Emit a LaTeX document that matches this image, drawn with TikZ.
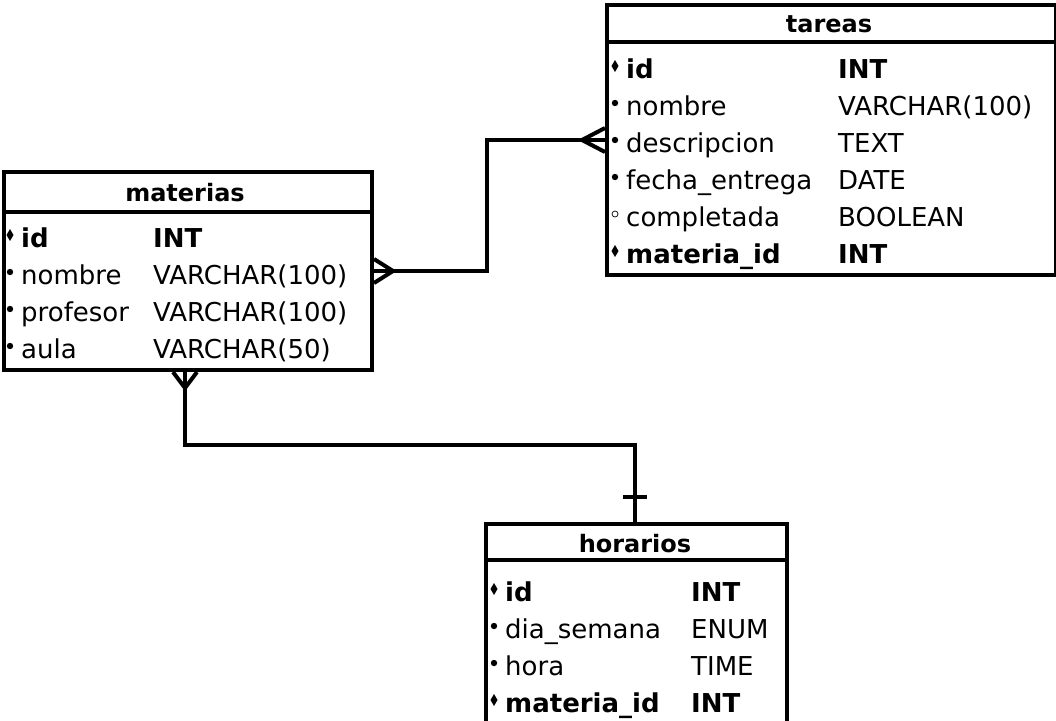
\documentclass[tikz,border=0pt]{standalone}
\usepackage{fontspec}
\setmainfont{DejaVu Sans}
\begin{document}
\begin{tikzpicture}[x=1pt,y=-1pt,
  tbl/.style={draw=black,line width=4pt,fill=white,inner sep=0pt,anchor=north west},
  sep/.style={draw=black,line width=4pt},
  conn/.style={draw=black,line width=4pt},
  fld/.style={anchor=base west,inner sep=0pt,font=\fontsize{26}{30}\selectfont},
  bfld/.style={fld,font=\fontsize{26}{30}\selectfont\bfseries},
  hdr/.style={anchor=base,inner sep=0pt,font=\fontsize{24}{28}\selectfont\bfseries},
  pk/.style={fill=black},
  nn/.style={fill=black},
  nul/.style={draw=black,line width=0.7pt,fill=white}]
\useasboundingbox (0,0) rectangle (1056,720);
\clip (0,0) rectangle (1056,720);
% ---------- tables ----------
\node[tbl,minimum width=368pt,minimum height=198pt] (mat) at (2,170) {};
\node[tbl,minimum width=449pt,minimum height=270pt] (tar) at (605,3) {};
\node[tbl,minimum width=301pt,minimum height=215pt] (hor) at (484,522) {};
% header separators
\draw[sep] (mat.west |- 0,212) coordinate (ms1) -- (mat.east |- 0,212) coordinate (ms2);
\draw[sep] (tar.west |- 0,42) coordinate (ts1) -- (tar.east |- 0,42) coordinate (ts2);
\draw[sep] (hor.west |- 0,560) coordinate (hs1) -- (hor.east |- 0,560) coordinate (hs2);
% headers
\node[hdr] (mhd) at (185,201) {materias};
\node[hdr] (thd) at (829,32) {tareas};
\node[hdr] (hhd) at (635,552) {horarios};
% ---------- materias fields ----------
\path[pk] (10,229) -- (13.5,235) -- (10,241) -- (6.5,235) -- cycle;
\node[bfld] (m1n) at (21,247) {id};
\node[bfld] (m1t) at (153,247) {INT};
\fill[nn] (10,272) circle (3.2);
\node[fld] (m2n) at (21,284) {nombre};
\node[fld] (m2t) at (153,284) {VARCHAR(100)};
\fill[nn] (10,309) circle (3.2);
\node[fld] (m3n) at (21,321) {profesor};
\node[fld] (m3t) at (153,321) {VARCHAR(100)};
\fill[nn] (10,346) circle (3.2);
\node[fld] (m4n) at (21,358) {aula};
\node[fld] (m4t) at (153,358) {VARCHAR(50)};
% ---------- tareas fields ----------
\path[pk] (615,60) -- (618.5,66) -- (615,72) -- (611.5,66) -- cycle;
\node[bfld] (t1n) at (626,78) {id};
\node[bfld] (t1t) at (838,78) {INT};
\fill[nn] (615,103) circle (3.2);
\node[fld] (t2n) at (626,115) {nombre};
\node[fld] (t2t) at (838,115) {VARCHAR(100)};
\fill[nn] (615,140) circle (3.2);
\node[fld] (t3n) at (626,152) {descripcion};
\node[fld] (t3t) at (838,152) {TEXT};
\fill[nn] (615,177) circle (3.2);
\node[fld] (t4n) at (626,189) {fecha\_entrega};
\node[fld] (t4t) at (838,189) {DATE};
\draw[nul] (615,214) circle (3.0);
\node[fld] (t5n) at (626,226) {completada};
\node[fld] (t5t) at (838,226) {BOOLEAN};
\path[pk] (615,245) -- (618.5,251) -- (615,257) -- (611.5,251) -- cycle;
\node[bfld] (t6n) at (626,263) {materia\_id};
\node[bfld] (t6t) at (838,263) {INT};
% ---------- horarios fields ----------
\path[pk] (494,583) -- (497.5,589) -- (494,595) -- (490.5,589) -- cycle;
\node[bfld] (h1n) at (505,601) {id};
\node[bfld] (h1t) at (691,601) {INT};
\fill[nn] (494,626) circle (3.2);
\node[fld] (h2n) at (505,638) {dia\_semana};
\node[fld] (h2t) at (691,638) {ENUM};
\fill[nn] (494,663) circle (3.2);
\node[fld] (h3n) at (505,675) {hora};
\node[fld] (h3t) at (691,675) {TIME};
\path[pk] (494,694) -- (497.5,700) -- (494,706) -- (490.5,700) -- cycle;
\node[bfld] (h4n) at (505,712) {materia\_id};
\node[bfld] (h4t) at (691,712) {INT};
% ---------- connectors ----------
% materias -- tareas (many to many)
\coordinate (a1) at (mat.east |- 0,271);
\coordinate (a2) at (tar.west |- 0,140);
\draw[conn,line join=miter] (a1) -- (487,271) -- (487,140) -- (a2);
\draw[conn] (393,271) -- (mat.east |- 0,259);
\draw[conn] (393,271) -- (mat.east |- 0,283);
\draw[conn] (582,140) -- (tar.west |- 0,128);
\draw[conn] (582,140) -- (tar.west |- 0,152);
% materias -- horarios
\coordinate (b1) at (mat.south -| 185,0);
\coordinate (b2) at (hor.north -| 635,0);
\draw[conn,line join=miter] (b1) -- (185,445) -- (635,445) -- (b2);
\draw[conn] (185,388) -- (mat.south -| 173,0);
\draw[conn] (185,388) -- (mat.south -| 197,0);
\draw[conn] (623,497) -- (647,497);
\end{tikzpicture}
\end{document}
